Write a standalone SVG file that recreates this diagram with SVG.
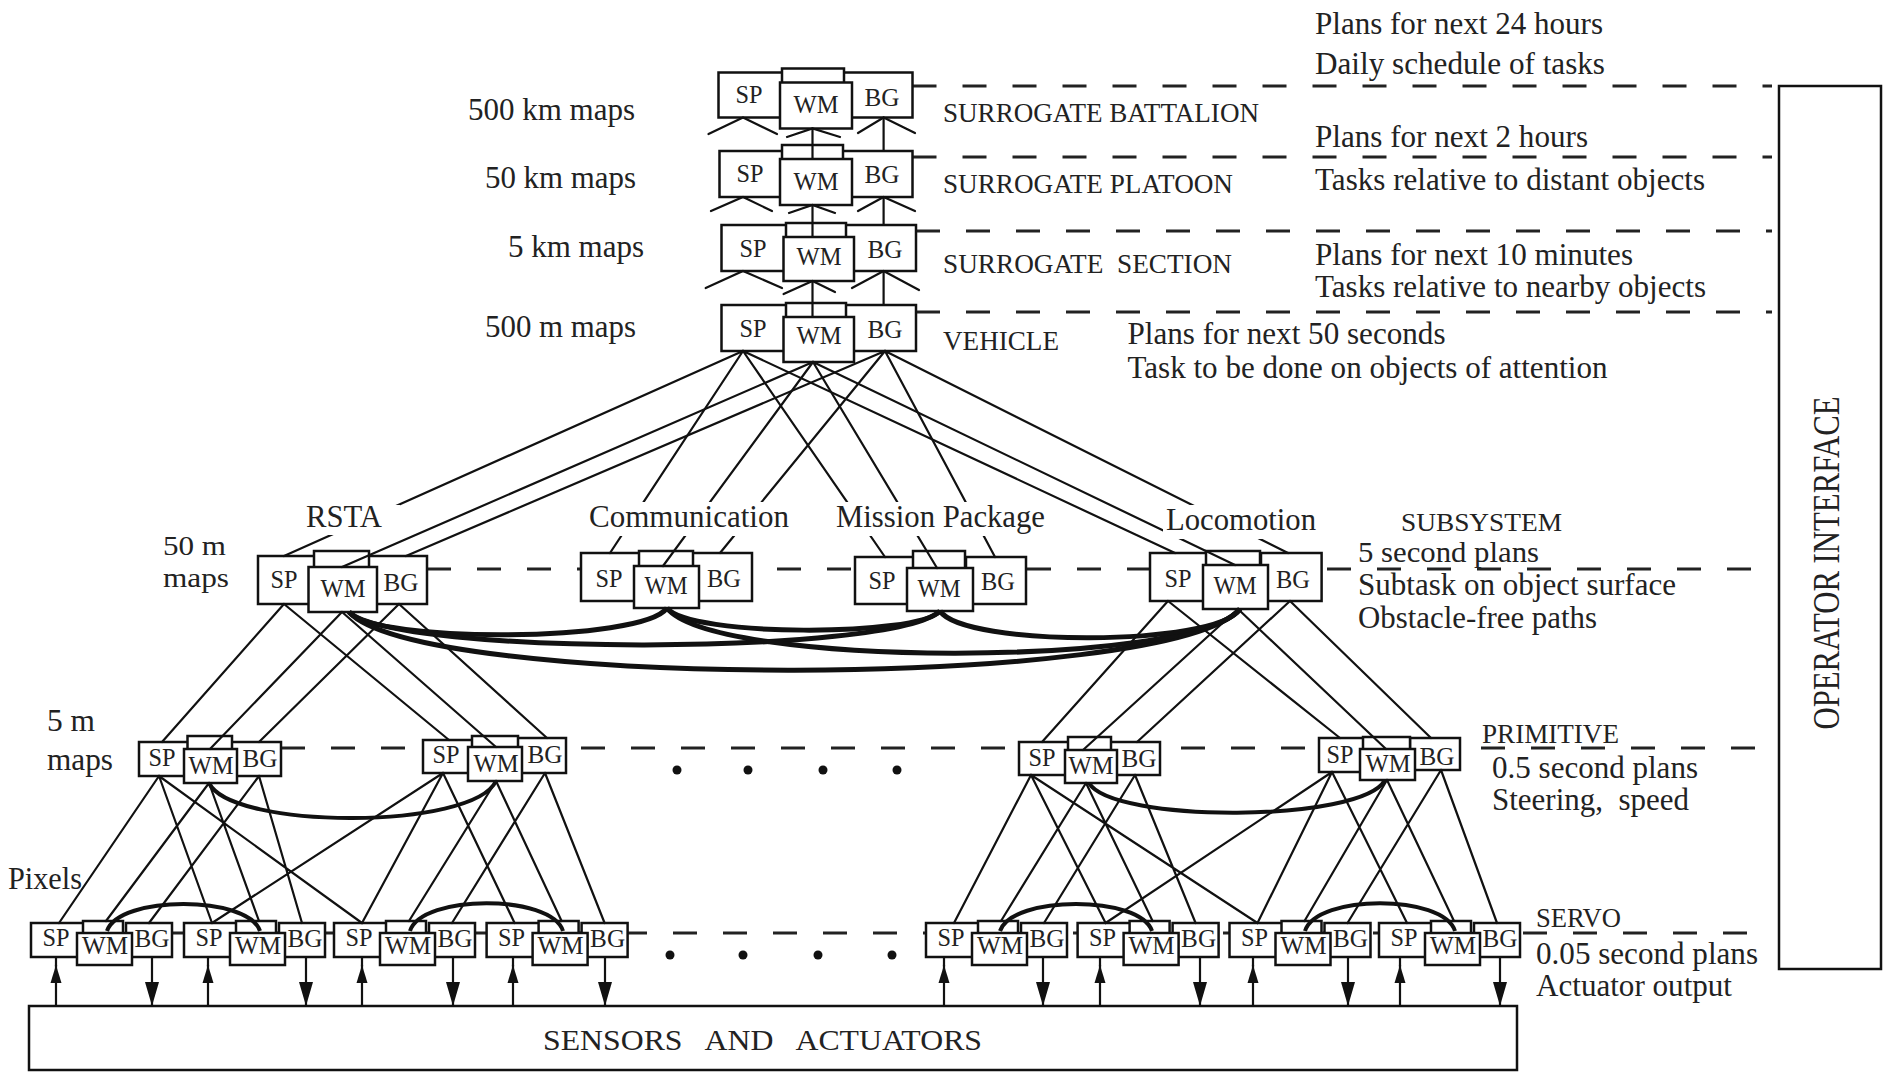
<svg xmlns="http://www.w3.org/2000/svg" width="1885" height="1072" viewBox="0 0 1885 1072">
<defs>
<style>
.b{fill:#fff;stroke:#111;stroke-width:2.5}
.t{font-family:"Liberation Serif","Times New Roman",serif;fill:#222}
.n{font-size:25px;text-anchor:middle}
.L{font-size:31px}
.U{font-size:27px}
.ln{stroke:#111;stroke-width:2.2;fill:none;stroke-linecap:round}
.cv{stroke:#111;stroke-width:5;fill:none}
.cv2{stroke:#111;stroke-width:4;fill:none}
.ds{stroke:#222;stroke-width:3;stroke-dasharray:24 26;fill:none}
.dot{fill:#111}
</style>
<marker id="au" markerUnits="userSpaceOnUse" markerWidth="18" markerHeight="12" viewBox="0 0 18 12" refX="18" refY="6" orient="auto"><path d="M0,0.5 L18,6 L0,11.5 z" fill="#111"/></marker>
<marker id="ad" markerUnits="userSpaceOnUse" markerWidth="24" markerHeight="14" viewBox="0 0 24 14" refX="24" refY="7" orient="auto"><path d="M0,0 L24,7 L0,14 z" fill="#111"/></marker>
<mask id="lblgap" maskUnits="userSpaceOnUse" x="0" y="0" width="1885" height="1072">
<rect x="0" y="0" width="1885" height="1072" fill="#fff"/>
<rect x="300" y="505" width="100" height="30" fill="#000"/>
<rect x="585" y="502" width="210" height="34" fill="#000"/>
<rect x="830" y="502" width="220" height="34" fill="#000"/>
<rect x="1163" y="505" width="160" height="34" fill="#000"/>
</mask>
</defs>
<rect x="0" y="0" width="1885" height="1072" fill="#fff"/>

<g id="level-lines">
<path class="ds" d="M912.5,86 H1772"/>
<path class="ds" d="M912.5,157 H1772"/>
<path class="ds" d="M916,231 H1772"/>
<path class="ds" d="M916,312 H1772"/>
<path class="ds" d="M427,569 H1772"/>
<path class="ds" d="M281,748 H1772"/>
<path class="ds" d="M173,933 H1772"/>
</g>

<g id="operator-interface">
<rect class="b" x="1779" y="86" width="102" height="883"/>
<text class="t" font-size="30" text-anchor="middle" textLength="333" lengthAdjust="spacingAndGlyphs" transform="translate(1839,563) scale(1.25,1) rotate(-90)">OPERATOR INTERFACE</text>
</g>

<g id="sensors-actuators">
<rect class="b" x="29" y="1006" width="1488" height="64"/>
<text class="t" font-size="30" x="543" y="1050" textLength="439" lengthAdjust="spacingAndGlyphs" xml:space="preserve">SENSORS   AND   ACTUATORS</text>
</g>

<g id="node-battalion">
<rect class="b" x="718.5" y="72.5" width="70" height="45"/>
<rect class="b" x="842" y="72.5" width="70.5" height="45"/>
<rect class="b" x="782" y="68.5" width="62" height="20"/>
<rect class="b" x="780" y="82.5" width="72" height="46"/>
<text class="t n" x="749" y="103" textLength="27" lengthAdjust="spacingAndGlyphs">SP</text>
<text class="t n" x="816" y="113" textLength="45" lengthAdjust="spacingAndGlyphs">WM</text>
<text class="t n" x="882" y="106" textLength="35" lengthAdjust="spacingAndGlyphs">BG</text>
</g>
<g id="node-platoon">
<rect class="b" x="719.5" y="151" width="70" height="46"/>
<rect class="b" x="842" y="151" width="70.5" height="46"/>
<rect class="b" x="782" y="145" width="61" height="20"/>
<rect class="b" x="780" y="159" width="72" height="46"/>
<text class="t n" x="750" y="182" textLength="27" lengthAdjust="spacingAndGlyphs">SP</text>
<text class="t n" x="816" y="190" textLength="45" lengthAdjust="spacingAndGlyphs">WM</text>
<text class="t n" x="882" y="183" textLength="35" lengthAdjust="spacingAndGlyphs">BG</text>
</g>
<g id="node-section">
<rect class="b" x="721.5" y="225" width="70" height="46"/>
<rect class="b" x="845" y="225" width="71" height="46"/>
<rect class="b" x="786" y="223" width="60" height="20"/>
<rect class="b" x="783.5" y="237" width="70.5" height="44"/>
<text class="t n" x="753" y="257" textLength="27" lengthAdjust="spacingAndGlyphs">SP</text>
<text class="t n" x="819" y="265" textLength="45" lengthAdjust="spacingAndGlyphs">WM</text>
<text class="t n" x="885" y="258" textLength="35" lengthAdjust="spacingAndGlyphs">BG</text>
</g>
<g id="node-vehicle">
<rect class="b" x="721.5" y="305" width="70" height="46"/>
<rect class="b" x="845" y="305" width="71" height="46"/>
<rect class="b" x="786" y="303" width="60" height="20"/>
<rect class="b" x="783.5" y="317" width="70.5" height="45"/>
<text class="t n" x="753" y="337" textLength="27" lengthAdjust="spacingAndGlyphs">SP</text>
<text class="t n" x="819" y="344" textLength="45" lengthAdjust="spacingAndGlyphs">WM</text>
<text class="t n" x="885" y="338" textLength="35" lengthAdjust="spacingAndGlyphs">BG</text>
</g>

<g id="node-rsta">
<rect class="b" x="258" y="556" width="60" height="48"/>
<rect class="b" x="368" y="556" width="59" height="48"/>
<rect class="b" x="314" y="551" width="55" height="20"/>
<rect class="b" x="308.5" y="567" width="68.5" height="45"/>
<text class="t n" x="284" y="588" textLength="27" lengthAdjust="spacingAndGlyphs">SP</text>
<text class="t n" x="343" y="597" textLength="45" lengthAdjust="spacingAndGlyphs">WM</text>
<text class="t n" x="401" y="591" textLength="35" lengthAdjust="spacingAndGlyphs">BG</text>
</g>
<g id="node-communication">
<rect class="b" x="581" y="553" width="60" height="48"/>
<rect class="b" x="692" y="553" width="60" height="48"/>
<rect class="b" x="639" y="551" width="54" height="20"/>
<rect class="b" x="634" y="566" width="65" height="42"/>
<text class="t n" x="609" y="587" textLength="27" lengthAdjust="spacingAndGlyphs">SP</text>
<text class="t n" x="666" y="594" textLength="43" lengthAdjust="spacingAndGlyphs">WM</text>
<text class="t n" x="724" y="587" textLength="34" lengthAdjust="spacingAndGlyphs">BG</text>
</g>
<g id="node-mission">
<rect class="b" x="855" y="557" width="60" height="47"/>
<rect class="b" x="966" y="557" width="60" height="47"/>
<rect class="b" x="913" y="551" width="52" height="20"/>
<rect class="b" x="907" y="568" width="66" height="43"/>
<text class="t n" x="882" y="589" textLength="27" lengthAdjust="spacingAndGlyphs">SP</text>
<text class="t n" x="939" y="597" textLength="43" lengthAdjust="spacingAndGlyphs">WM</text>
<text class="t n" x="998" y="590" textLength="34" lengthAdjust="spacingAndGlyphs">BG</text>
</g>
<g id="node-locomotion">
<rect class="b" x="1150" y="553" width="60" height="48"/>
<rect class="b" x="1261" y="553" width="60.6" height="48"/>
<rect class="b" x="1206" y="551" width="54" height="20"/>
<rect class="b" x="1203" y="565" width="65" height="44"/>
<text class="t n" x="1178" y="587" textLength="27" lengthAdjust="spacingAndGlyphs">SP</text>
<text class="t n" x="1235" y="594" textLength="43" lengthAdjust="spacingAndGlyphs">WM</text>
<text class="t n" x="1293" y="588" textLength="34" lengthAdjust="spacingAndGlyphs">BG</text>
</g>

<g id="node-prim-1">
<rect class="b" x="139" y="742" width="50" height="34"/>
<rect class="b" x="230" y="742" width="51" height="34"/>
<rect class="b" x="187.5" y="736" width="44.5" height="15"/>
<rect class="b" x="184" y="749" width="53" height="34"/>
<text class="t n" x="162" y="766" textLength="27" lengthAdjust="spacingAndGlyphs">SP</text>
<text class="t n" x="211" y="774" textLength="45" lengthAdjust="spacingAndGlyphs">WM</text>
<text class="t n" x="260" y="767" textLength="35" lengthAdjust="spacingAndGlyphs">BG</text>
</g>
<g id="node-prim-2">
<rect class="b" x="423" y="740" width="50" height="33"/>
<rect class="b" x="515" y="738" width="51" height="35"/>
<rect class="b" x="472" y="736" width="46" height="15"/>
<rect class="b" x="468" y="747" width="54" height="34"/>
<text class="t n" x="446" y="763" textLength="27" lengthAdjust="spacingAndGlyphs">SP</text>
<text class="t n" x="496" y="772" textLength="45" lengthAdjust="spacingAndGlyphs">WM</text>
<text class="t n" x="545" y="763" textLength="35" lengthAdjust="spacingAndGlyphs">BG</text>
</g>
<g id="node-prim-3">
<rect class="b" x="1019" y="742" width="50" height="33"/>
<rect class="b" x="1110" y="742" width="50" height="33"/>
<rect class="b" x="1068" y="737" width="43" height="15"/>
<rect class="b" x="1065" y="750" width="52" height="33"/>
<text class="t n" x="1042" y="766" textLength="27" lengthAdjust="spacingAndGlyphs">SP</text>
<text class="t n" x="1091" y="774" textLength="45" lengthAdjust="spacingAndGlyphs">WM</text>
<text class="t n" x="1139" y="767" textLength="35" lengthAdjust="spacingAndGlyphs">BG</text>
</g>
<g id="node-prim-4">
<rect class="b" x="1319" y="738" width="45" height="34"/>
<rect class="b" x="1410" y="738" width="50" height="32"/>
<rect class="b" x="1363" y="737" width="47" height="15"/>
<rect class="b" x="1360" y="749" width="55" height="31"/>
<text class="t n" x="1340" y="763" textLength="27" lengthAdjust="spacingAndGlyphs">SP</text>
<text class="t n" x="1388" y="772" textLength="45" lengthAdjust="spacingAndGlyphs">WM</text>
<text class="t n" x="1437" y="765" textLength="35" lengthAdjust="spacingAndGlyphs">BG</text>
</g>

<g id="node-servo-1" transform="translate(31,0)">
<rect class="b" x="0" y="923" width="55" height="34"/><rect class="b" x="95" y="923" width="46" height="34"/><rect class="b" x="52" y="921" width="40" height="15"/><rect class="b" x="46" y="933" width="55" height="32"/>
<text class="t n" x="25" y="946" textLength="27" lengthAdjust="spacingAndGlyphs">SP</text><text class="t n" x="74" y="954" textLength="46" lengthAdjust="spacingAndGlyphs">WM</text><text class="t n" x="121" y="947" textLength="35" lengthAdjust="spacingAndGlyphs">BG</text>
</g>
<g id="node-servo-2" transform="translate(184,0)">
<rect class="b" x="0" y="923" width="55" height="34"/><rect class="b" x="95" y="923" width="46" height="34"/><rect class="b" x="52" y="921" width="40" height="15"/><rect class="b" x="46" y="933" width="55" height="32"/>
<text class="t n" x="25" y="946" textLength="27" lengthAdjust="spacingAndGlyphs">SP</text><text class="t n" x="74" y="954" textLength="46" lengthAdjust="spacingAndGlyphs">WM</text><text class="t n" x="121" y="947" textLength="35" lengthAdjust="spacingAndGlyphs">BG</text>
</g>
<g id="node-servo-3" transform="translate(334,0)">
<rect class="b" x="0" y="923" width="55" height="34"/><rect class="b" x="95" y="923" width="46" height="34"/><rect class="b" x="52" y="921" width="40" height="15"/><rect class="b" x="46" y="933" width="55" height="32"/>
<text class="t n" x="25" y="946" textLength="27" lengthAdjust="spacingAndGlyphs">SP</text><text class="t n" x="74" y="954" textLength="46" lengthAdjust="spacingAndGlyphs">WM</text><text class="t n" x="121" y="947" textLength="35" lengthAdjust="spacingAndGlyphs">BG</text>
</g>
<g id="node-servo-4" transform="translate(486.6,0)">
<rect class="b" x="0" y="923" width="55" height="34"/><rect class="b" x="95" y="923" width="46" height="34"/><rect class="b" x="52" y="921" width="40" height="15"/><rect class="b" x="46" y="933" width="55" height="32"/>
<text class="t n" x="25" y="946" textLength="27" lengthAdjust="spacingAndGlyphs">SP</text><text class="t n" x="74" y="954" textLength="46" lengthAdjust="spacingAndGlyphs">WM</text><text class="t n" x="121" y="947" textLength="35" lengthAdjust="spacingAndGlyphs">BG</text>
</g>
<g id="node-servo-5" transform="translate(926,0)">
<rect class="b" x="0" y="923" width="55" height="34"/><rect class="b" x="95" y="923" width="46" height="34"/><rect class="b" x="52" y="921" width="40" height="15"/><rect class="b" x="46" y="933" width="55" height="32"/>
<text class="t n" x="25" y="946" textLength="27" lengthAdjust="spacingAndGlyphs">SP</text><text class="t n" x="74" y="954" textLength="46" lengthAdjust="spacingAndGlyphs">WM</text><text class="t n" x="121" y="947" textLength="35" lengthAdjust="spacingAndGlyphs">BG</text>
</g>
<g id="node-servo-6" transform="translate(1077.6,0)">
<rect class="b" x="0" y="923" width="55" height="34"/><rect class="b" x="95" y="923" width="46" height="34"/><rect class="b" x="52" y="921" width="40" height="15"/><rect class="b" x="46" y="933" width="55" height="32"/>
<text class="t n" x="25" y="946" textLength="27" lengthAdjust="spacingAndGlyphs">SP</text><text class="t n" x="74" y="954" textLength="46" lengthAdjust="spacingAndGlyphs">WM</text><text class="t n" x="121" y="947" textLength="35" lengthAdjust="spacingAndGlyphs">BG</text>
</g>
<g id="node-servo-7" transform="translate(1229.5,0)">
<rect class="b" x="0" y="923" width="55" height="34"/><rect class="b" x="95" y="923" width="46" height="34"/><rect class="b" x="52" y="921" width="40" height="15"/><rect class="b" x="46" y="933" width="55" height="32"/>
<text class="t n" x="25" y="946" textLength="27" lengthAdjust="spacingAndGlyphs">SP</text><text class="t n" x="74" y="954" textLength="46" lengthAdjust="spacingAndGlyphs">WM</text><text class="t n" x="121" y="947" textLength="35" lengthAdjust="spacingAndGlyphs">BG</text>
</g>
<g id="node-servo-8" transform="translate(1379,0)">
<rect class="b" x="0" y="923" width="55" height="34"/><rect class="b" x="95" y="923" width="46" height="34"/><rect class="b" x="52" y="921" width="40" height="15"/><rect class="b" x="46" y="933" width="55" height="32"/>
<text class="t n" x="25" y="946" textLength="27" lengthAdjust="spacingAndGlyphs">SP</text><text class="t n" x="74" y="954" textLength="46" lengthAdjust="spacingAndGlyphs">WM</text><text class="t n" x="121" y="947" textLength="35" lengthAdjust="spacingAndGlyphs">BG</text>
</g>

<g id="connectors">
<path class="ln" d="M708.5,134 L743,117.5 L777,134 M787,137 L812.5,128.5 L840,137 M858,133 L883.6,117.5 L915,133"/>
<path class="ln" d="M711,211 L743,197 L772,211 M789,213 L812.5,205 L835,213 M858,211 L883.6,197 L915,211"/>
<path class="ln" d="M705.7,288 L743,271 L782,288 M783.6,294 L812.5,281 L835,292 M852,288 L883.6,271 L919,290"/>
<path class="ln" d="M812.5,128.5 V159 M883.6,117.5 V151 M812.5,205 V237 M883.6,197 V225 M812.5,281 V317 M883.6,271 V305"/>
<g mask="url(#lblgap)">
<path class="ln" d="M743,351 L284,556 M743,351 L610,553 M743,351 L885,557 M743,351 L1175,553"/>
<path class="ln" d="M813,362 L342,567 M813,362 L663,566 M813,362 L937,568 M813,362 L1235,565"/>
<path class="ln" d="M885,351 L406,556 M885,351 L720,553 M885,351 L995,557 M885,351 L1288,553"/>
</g>
<path class="ln" d="M284,604 L162,742 M284,604 L449,740 M342,612 L210,749 M342,612 L496,747 M399,604 L259,742 M399,604 L547,738"/>
<path class="ln" d="M1168,601 L1042,742 M1168,601 L1340,738 M1238,609 L1083,750 M1238,609 L1386,749 M1290,601 L1137,742 M1290,601 L1431,738"/>
<path class="ln" d="M159,776 L59,923 M159,776 L212,923 M159,776 L362,923 M209,783 L106,921 M209,783 L259,921 M259,776 L149,923 M259,776 L302,923"/>
<path class="ln" d="M443,773 L212,923 M443,773 L362,923 M443,773 L514.6,923 M496,781 L409,921 M496,781 L561.6,921 M545,773 L452,923 M545,773 L604.6,923"/>
<path class="ln" d="M1031,775 L954,923 M1031,775 L1105.6,923 M1031,775 L1257.5,923 M1086,783 L1001,921 M1086,783 L1152.6,921 M1135,775 L1044,923 M1135,775 L1195.6,923"/>
<path class="ln" d="M1332,772 L1105.6,923 M1332,772 L1257.5,923 M1332,772 L1407,923 M1387,780 L1304.5,921 M1387,780 L1454,921 M1441,770 L1347.5,923 M1441,770 L1497,923"/>
<path class="cv" d="M349,612 C374,643 642,643 667,608"/>
<path class="cv" d="M349,612 C396,656 893,656 940,611"/>
<path class="cv" d="M349,612 C420,690 1169,690 1240,609"/>
<path class="cv" d="M667,608 C689,637 918,637 940,611"/>
<path class="cv" d="M667,608 C713,668 1194,668 1240,609"/>
<path class="cv" d="M940,611 C964,647 1216,647 1240,609"/>
<path class="cv2" d="M209,783 C232,830 473,830 496,781"/>
<path class="cv2" d="M1089,783 C1112,823 1362,823 1385,780"/>
<path class="cv2" d="M107,931 C119,895 248,895 260,931"/>
<path class="cv2" d="M410,931 C422,894 551,894 563,931"/>
<path class="cv2" d="M1000,931 C1012,895 1140,895 1152,931"/>
<path class="cv2" d="M1305,931 C1317,894 1443,894 1455,931"/>
<g id="arrows">
<path class="ln" marker-end="url(#au)" d="M56,1006 L56,965"/><path class="ln" d="M56,966 L56,957"/>
<path class="ln" marker-end="url(#au)" d="M208,1006 L208,965"/><path class="ln" d="M208,966 L208,957"/>
<path class="ln" marker-end="url(#au)" d="M362,1006 L362,965"/><path class="ln" d="M362,966 L362,957"/>
<path class="ln" marker-end="url(#au)" d="M513,1006 L513,965"/><path class="ln" d="M513,966 L513,957"/>
<path class="ln" marker-end="url(#au)" d="M944,1006 L944,965"/><path class="ln" d="M944,966 L944,957"/>
<path class="ln" marker-end="url(#au)" d="M1100,1006 L1100,965"/><path class="ln" d="M1100,966 L1100,957"/>
<path class="ln" marker-end="url(#au)" d="M1253,1006 L1253,965"/><path class="ln" d="M1253,966 L1253,957"/>
<path class="ln" marker-end="url(#au)" d="M1400,1006 L1400,965"/><path class="ln" d="M1400,966 L1400,957"/>
<path class="ln" marker-end="url(#ad)" d="M152,957 L152,1006"/>
<path class="ln" marker-end="url(#ad)" d="M306,957 L306,1006"/>
<path class="ln" marker-end="url(#ad)" d="M453,957 L453,1006"/>
<path class="ln" marker-end="url(#ad)" d="M605,957 L605,1006"/>
<path class="ln" marker-end="url(#ad)" d="M1043,957 L1043,1006"/>
<path class="ln" marker-end="url(#ad)" d="M1200,957 L1200,1006"/>
<path class="ln" marker-end="url(#ad)" d="M1348,957 L1348,1006"/>
<path class="ln" marker-end="url(#ad)" d="M1500,957 L1500,1006"/>
</g>
</g>

<g id="ellipsis">
<circle class="dot" cx="677" cy="770" r="4.5"/><circle class="dot" cx="748" cy="770" r="4.5"/><circle class="dot" cx="823" cy="770" r="4.5"/><circle class="dot" cx="897" cy="770" r="4.5"/>
<circle class="dot" cx="670" cy="955" r="4.5"/><circle class="dot" cx="743" cy="955" r="4.5"/><circle class="dot" cx="818" cy="955" r="4.5"/><circle class="dot" cx="892" cy="955" r="4.5"/>
</g>

<g id="labels">
<text class="t L" x="1315" y="34" textLength="288" lengthAdjust="spacingAndGlyphs">Plans for next 24 hours</text>
<text class="t L" x="1315" y="74" textLength="290" lengthAdjust="spacingAndGlyphs">Daily schedule of tasks</text>
<text class="t L" x="1315" y="147" textLength="273" lengthAdjust="spacingAndGlyphs">Plans for next 2 hours</text>
<text class="t L" x="1315" y="190" textLength="390" lengthAdjust="spacingAndGlyphs">Tasks relative to distant objects</text>
<text class="t L" x="1315" y="265" textLength="318" lengthAdjust="spacingAndGlyphs">Plans for next 10 minutes</text>
<text class="t L" x="1315" y="297" textLength="391" lengthAdjust="spacingAndGlyphs">Tasks relative to nearby objects</text>
<text class="t L" x="1127.5" y="344" textLength="318" lengthAdjust="spacingAndGlyphs">Plans for next 50 seconds</text>
<text class="t L" x="1127.5" y="378" textLength="480" lengthAdjust="spacingAndGlyphs">Task to be done on objects of attention</text>
<text class="t L" x="468" y="120" textLength="167" lengthAdjust="spacingAndGlyphs">500 km maps</text>
<text class="t L" x="485" y="188" textLength="151" lengthAdjust="spacingAndGlyphs">50 km maps</text>
<text class="t L" x="508" y="257" textLength="136" lengthAdjust="spacingAndGlyphs">5 km maps</text>
<text class="t L" x="485" y="337" textLength="151" lengthAdjust="spacingAndGlyphs">500 m maps</text>
<text class="t U" x="943" y="122" textLength="316" lengthAdjust="spacingAndGlyphs">SURROGATE BATTALION</text>
<text class="t U" x="943" y="193" textLength="290" lengthAdjust="spacingAndGlyphs">SURROGATE PLATOON</text>
<text class="t U" x="943" y="273" textLength="289" lengthAdjust="spacingAndGlyphs" xml:space="preserve">SURROGATE  SECTION</text>
<text class="t U" x="943" y="350" textLength="116" lengthAdjust="spacingAndGlyphs">VEHICLE</text>
<text class="t L" x="306" y="527" textLength="76" lengthAdjust="spacingAndGlyphs">RSTA</text>
<text class="t L" x="589" y="527" textLength="200" lengthAdjust="spacingAndGlyphs">Communication</text>
<text class="t L" x="836" y="527" textLength="209" lengthAdjust="spacingAndGlyphs">Mission Package</text>
<text class="t L" x="1166" y="530" textLength="150" lengthAdjust="spacingAndGlyphs">Locomotion</text>
<text class="t" font-size="25" x="1401" y="531" textLength="161" lengthAdjust="spacingAndGlyphs">SUBSYSTEM</text>
<text class="t" font-size="29" x="1358" y="562" textLength="181" lengthAdjust="spacingAndGlyphs">5 second plans</text>
<text class="t L" x="1358" y="595" textLength="318" lengthAdjust="spacingAndGlyphs">Subtask on object surface</text>
<text class="t L" x="1358" y="628" textLength="239" lengthAdjust="spacingAndGlyphs">Obstacle-free paths</text>
<text class="t" font-size="28" x="163" y="555" textLength="63" lengthAdjust="spacingAndGlyphs">50 m</text>
<text class="t" font-size="28" x="163" y="587" textLength="66" lengthAdjust="spacingAndGlyphs">maps</text>
<text class="t L" x="47" y="731" textLength="48" lengthAdjust="spacingAndGlyphs">5 m</text>
<text class="t L" x="47" y="770" textLength="66" lengthAdjust="spacingAndGlyphs">maps</text>
<text class="t L" x="8" y="889" textLength="74" lengthAdjust="spacingAndGlyphs">Pixels</text>
<text class="t U" x="1482" y="743" textLength="137" lengthAdjust="spacingAndGlyphs">PRIMITIVE</text>
<text class="t L" x="1492" y="778" textLength="206" lengthAdjust="spacingAndGlyphs">0.5 second plans</text>
<text class="t L" x="1492" y="810" textLength="197" lengthAdjust="spacingAndGlyphs" xml:space="preserve">Steering,  speed</text>
<text class="t U" x="1536" y="927" textLength="85" lengthAdjust="spacingAndGlyphs">SERVO</text>
<text class="t L" x="1536" y="964" textLength="222" lengthAdjust="spacingAndGlyphs">0.05 second plans</text>
<text class="t L" x="1536" y="996" textLength="196" lengthAdjust="spacingAndGlyphs">Actuator output</text>
</g>
</svg>
